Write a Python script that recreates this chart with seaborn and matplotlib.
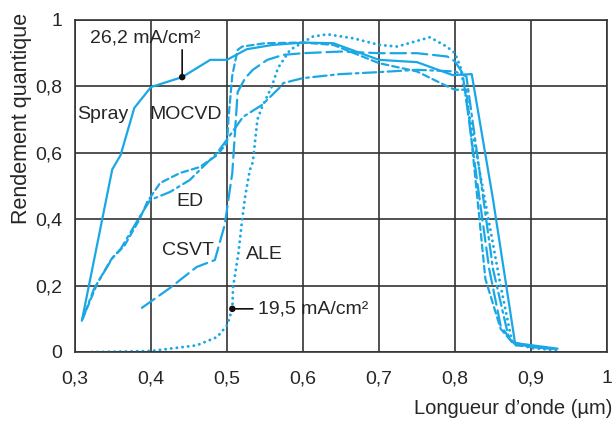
import matplotlib
matplotlib.use("Agg")
import matplotlib.pyplot as plt
import pandas as pd
import seaborn as sns

# --- data (wavelength in um, quantum efficiency) ---
spray_x = [0.309, 0.349, 0.36, 0.378, 0.40, 0.441, 0.478, 0.50, 0.526, 0.56, 0.60,
           0.64, 0.70, 0.75, 0.797, 0.822, 0.85, 0.879, 0.935]
spray_y = [0.094, 0.55, 0.593, 0.735, 0.798, 0.828, 0.88, 0.88, 0.912, 0.925, 0.932,
           0.93, 0.88, 0.873, 0.834, 0.837, 0.46, 0.027, 0.01]

mocvd_x = [0.31, 0.33, 0.348, 0.365, 0.385, 0.395, 0.412, 0.438, 0.464, 0.487, 0.50,
           0.502, 0.507, 0.514, 0.52, 0.55, 0.60, 0.64, 0.70, 0.75, 0.79, 0.80, 0.815,
           0.83, 0.84, 0.86, 0.875, 0.90, 0.93]
mocvd_y = [0.10, 0.21, 0.28, 0.32, 0.40, 0.452, 0.509, 0.539, 0.557, 0.593, 0.63,
           0.705, 0.834, 0.91, 0.92, 0.93, 0.932, 0.925, 0.87, 0.845, 0.80, 0.79, 0.79,
           0.45, 0.22, 0.07, 0.03, 0.015, 0.01]

ed_x = [0.31, 0.325, 0.35, 0.36, 0.385, 0.399, 0.425, 0.451, 0.487, 0.50, 0.521,
        0.546, 0.57, 0.574, 0.60, 0.649, 0.70, 0.75, 0.80, 0.815, 0.835, 0.85, 0.87,
        0.88, 0.93]
ed_y = [0.10, 0.19, 0.286, 0.31, 0.407, 0.458, 0.482, 0.518, 0.60, 0.64, 0.708,
        0.744, 0.798, 0.81, 0.825, 0.837, 0.843, 0.85, 0.845, 0.83, 0.50, 0.25, 0.05,
        0.02, 0.01]

csvt_x = [0.388, 0.425, 0.46, 0.484, 0.497, 0.507, 0.514, 0.524, 0.534, 0.553, 0.574,
          0.60, 0.65, 0.70, 0.75, 0.79, 0.80, 0.81, 0.83, 0.845, 0.86, 0.875, 0.90, 0.93]
csvt_y = [0.133, 0.193, 0.256, 0.277, 0.383, 0.54, 0.783, 0.825, 0.85, 0.88, 0.895,
          0.90, 0.905, 0.90, 0.90, 0.89, 0.875, 0.84, 0.50, 0.25, 0.08, 0.03, 0.015, 0.01]

ale_x = [0.322, 0.40, 0.46, 0.487, 0.50, 0.507, 0.508, 0.515, 0.52, 0.524, 0.53,
         0.534, 0.54, 0.546, 0.559, 0.567, 0.583, 0.613, 0.632, 0.666, 0.70, 0.724,
         0.767, 0.789, 0.80, 0.807, 0.82, 0.84, 0.86, 0.875, 0.90, 0.935]
ale_y = [0.0, 0.003, 0.02, 0.045, 0.08, 0.13, 0.196, 0.297, 0.40, 0.47, 0.548,
         0.572, 0.70, 0.737, 0.80, 0.855, 0.91, 0.95, 0.957, 0.945, 0.925, 0.92,
         0.948, 0.92, 0.90, 0.86, 0.70, 0.45, 0.20, 0.03, 0.012, 0.005]

x_ticks = [0.3, 0.4, 0.5, 0.6, 0.7, 0.8, 0.9, 1.0]
x_labels = ["0,3", "0,4", "0,5", "0,6", "0,7", "0,8", "0,9", "1"]
y_ticks = [0.0, 0.2, 0.4, 0.6, 0.8, 1.0]
y_labels = ["0", "0,2", "0,4", "0,6", "0,8", "1"]

# annotated points (current density markers)
mark_x = [0.441, 0.507]
mark_y = [0.828, 0.13]

BLUE = "#1aa7e6"
INK = "#262626"
GRID = "#333333"
FAM = ["Liberation Sans", "DejaVu Sans"]

sns.set_theme(style="white")
plt.rcParams["font.family"] = FAM
plt.rcParams["text.color"] = INK
plt.rcParams["axes.labelcolor"] = INK

fig = plt.figure(figsize=(6.14, 4.26), dpi=100)
ax = fig.add_axes([75 / 614, 1 - 352 / 426, 532 / 614, 332 / 426])

curves = [
    (spray_x, spray_y, "-", 1.6),
    (mocvd_x, mocvd_y, (0, (3.0, 1.8)), 1.6),
    (ed_x, ed_y, (0, (6.0, 2.0, 1.2, 2.0)), 1.6),
    (csvt_x, csvt_y, (0, (7.0, 2.6)), 1.6),
    (ale_x, ale_y, (0, (0.05, 1.9)), 2.1),
]
for xs, ys, ls, w in curves:
    df = pd.DataFrame({"wl": xs, "qe": ys})
    sns.lineplot(data=df, x="wl", y="qe", sort=False, estimator=None, ax=ax,
                 color=BLUE, lw=w, linestyle=ls, dash_capstyle="round")

ax.set_xlim(0.3, 1.0)
ax.set_ylim(0.0, 1.0)
ax.set_xticks(x_ticks)
ax.set_xticklabels(x_labels)
ax.set_yticks(y_ticks)
ax.set_yticklabels(y_labels)
ax.tick_params(axis="both", direction="out", length=7, width=1.2, color=GRID,
               labelsize=14, labelcolor=INK, pad=2)
ax.tick_params(axis="x", pad=6)
ax.grid(True, color=GRID, lw=1.2)
for sp in ax.spines.values():
    sp.set_visible(True)
    sp.set_color(GRID)
    sp.set_linewidth(1.2)
ax.set_xlabel("")
ax.set_ylabel("")

# markers and their leader lines
sns.scatterplot(x=mark_x, y=mark_y, ax=ax, color="#111111", s=22, zorder=5,
                edgecolor="none")
ax.annotate("", xy=(mark_x[0], mark_y[0]), xytext=(mark_x[0], 0.91),
            arrowprops=dict(arrowstyle="-", color="#111111", lw=1.2,
                            shrinkA=0, shrinkB=0))
ax.annotate("", xy=(mark_x[1], mark_y[1]), xytext=(0.534, mark_y[1]),
            arrowprops=dict(arrowstyle="-", color="#111111", lw=1.2,
                            shrinkA=0, shrinkB=0))
ax.text(0.393, 0.945, "26,2 mA/cm²", ha="center", va="center", fontsize=14)
ax.text(0.541, 0.13, "19,5 mA/cm²", ha="left", va="center", fontsize=14)

# curve labels
ax.text(0.336, 0.714, "Spray", ha="center", va="center", fontsize=14)
ax.text(0.446, 0.714, "MOCVD", ha="center", va="center", fontsize=14)
ax.text(0.451, 0.452, "ED", ha="center", va="center", fontsize=14)
ax.text(0.449, 0.307, "CSVT", ha="center", va="center", fontsize=14)
ax.text(0.549, 0.295, "ALE", ha="center", va="center", fontsize=14)

fig.text(612 / 614, 1 - 408 / 426, "Longueur d\u2019onde (\u00b5m)", ha="right",
         va="center", fontsize=14.5)
fig.text(22 / 614, 1 - 118 / 426, "Rendement quantique", rotation=90,
         ha="center", va="center", fontsize=15.5)

fig.savefig("out.png", dpi=100)
